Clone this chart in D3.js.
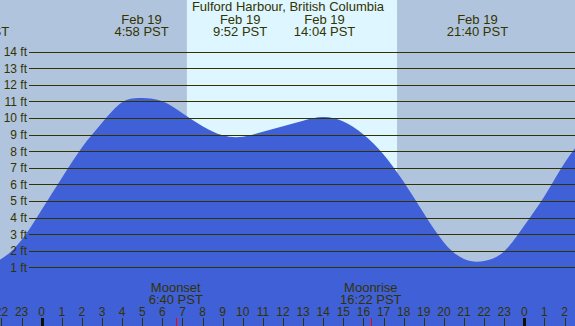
<!DOCTYPE html>
<html>
<head>
<meta charset="utf-8">
<script src="https://cdn.jsdelivr.net/npm/d3@7"></script>
<style>
body { margin: 0; background: #b0c4de; }
svg { display: block; font-family: "Liberation Sans", Arial, sans-serif; }
</style>
</head>
<body>
<svg width="575" height="326"></svg>
<script>
const width = 575, height = 326;
const svg = d3.select("svg");

// data
const title = "Fulford Harbour, British Columbia";
const hours = [-3, -2, -1, 0, 1, 2, 3, 4, 5, 6, 7, 8, 9, 10, 11, 12, 13, 14, 15, 16, 17, 18, 19, 20, 21, 22, 23, 24, 25, 26, 27];
const tideFt = [1.05, 1.52, 2.65, 4.47, 6.38, 8.22, 9.71, 10.95, 11.2, 11.0, 10.28, 9.5, 8.95, 8.86, 9.17, 9.5, 9.83, 10.05, 9.78, 9.0, 7.8, 6.15, 4.25, 2.5, 1.5, 1.38, 1.97, 3.52, 5.28, 7.29, 8.9];
const eventHours = [-3.15, 4.967, 9.867, 14.067, 21.667];
const eventDates = ["Feb 18", "Feb 19", "Feb 19", "Feb 19", "Feb 19"];
const eventTimes = ["20:51 PST", "4:58 PST", "9:52 PST", "14:04 PST", "21:40 PST"];
const moonHours = [6.667, 16.367];
const moonNames = ["Moonset", "Moonrise"];
const moonTimes = ["6:40 PST", "16:22 PST"];
const sunrise = 7.22, sunset = 17.67;
const feetTicks = [1, 2, 3, 4, 5, 6, 7, 8, 9, 10, 11, 12, 13, 14];
const hourTicks = [-2, -1, 0, 1, 2, 3, 4, 5, 6, 7, 8, 9, 10, 11, 12, 13, 14, 15, 16, 17, 18, 19, 20, 21, 22, 23, 24, 25, 26];

const ink = "#333300";

// scales
const x = d3.scaleLinear().domain([-2.074, 26.52]).range([0, width]);
const y = d3.scaleLinear().domain([0, 14]).range([283.9, 51.5]);

// night background + daylight band
svg.append("rect")
	.attr("width", width).attr("height", height)
	.attr("fill", "#b0c4de");
svg.append("rect")
	.attr("x", x(sunrise)).attr("y", 0)
	.attr("width", x(sunset) - x(sunrise)).attr("height", height)
	.attr("fill", "#ddf6ff");

// tide area
const area = d3.area()
	.x((d, i) => x(hours[i]))
	.y0(height)
	.y1(d => y(d))
	.curve(d3.curveNatural);
svg.append("path")
	.datum(tideFt)
	.attr("d", area)
	.attr("fill", "#4060d8");

// feet grid lines + labels
svg.selectAll(".grid")
	.data(feetTicks)
	.enter()
	.append("line")
	.attr("class", "grid")
	.attr("x1", 29).attr("x2", width)
	.attr("y1", d => Math.round(y(d)) + 0.5)
	.attr("y2", d => Math.round(y(d)) + 0.5)
	.attr("stroke", ink)
	.attr("stroke-width", 1.2);

svg.selectAll(".ylab")
	.data(feetTicks)
	.enter()
	.append("text")
	.attr("class", "ylab")
	.attr("x", 27)
	.attr("y", d => y(d) + 4.5)
	.attr("text-anchor", "end")
	.attr("font-size", 12)
	.attr("fill", ink)
	.text(d => d + " ft");

// title
svg.append("text")
	.attr("x", 288).attr("y", 11)
	.attr("text-anchor", "middle")
	.attr("font-size", 13)
	.attr("fill", ink)
	.text(title);

// tide extreme labels
const ev = svg.selectAll(".ev")
	.data(eventHours)
	.enter()
	.append("g")
	.attr("class", "ev")
	.attr("transform", d => `translate(${x(d)},0)`)
	.attr("text-anchor", "middle")
	.attr("font-size", 13)
	.attr("fill", ink);
ev.append("text").attr("y", 23.5).text((d, i) => eventDates[i]);
ev.append("text").attr("y", 35.5).text((d, i) => eventTimes[i]);

// moon labels
const moon = svg.selectAll(".moon")
	.data(moonHours)
	.enter()
	.append("g")
	.attr("class", "moon")
	.attr("transform", d => `translate(${x(d)},0)`)
	.attr("text-anchor", "middle")
	.attr("font-size", 13)
	.attr("fill", ink);
moon.append("text").attr("y", 291.5).text((d, i) => moonNames[i]);
moon.append("text").attr("y", 304).text((d, i) => moonTimes[i]);

// hour axis
svg.selectAll(".htick")
	.data(hourTicks)
	.enter()
	.append("line")
	.attr("class", "htick")
	.attr("x1", d => Math.round(x(d)) + 0.5)
	.attr("x2", d => Math.round(x(d)) + 0.5)
	.attr("y1", 318).attr("y2", height)
	.attr("stroke", d => (d % 24 === 0) ? "#111100" : ink)
	.attr("stroke-width", d => (d % 24 === 0) ? 3 : 1);

svg.selectAll(".hlab")
	.data(hourTicks)
	.enter()
	.append("text")
	.attr("class", "hlab")
	.attr("x", d => x(d))
	.attr("y", 316)
	.attr("text-anchor", "middle")
	.attr("font-size", 12)
	.attr("fill", ink)
	.text(d => ((d % 24) + 24) % 24);

// moon ticks
svg.selectAll(".mtick")
	.data(moonHours)
	.enter()
	.append("line")
	.attr("class", "mtick")
	.attr("x1", d => Math.round(x(d)) + 0.5)
	.attr("x2", d => Math.round(x(d)) + 0.5)
	.attr("y1", 318).attr("y2", height)
	.attr("stroke", "red")
	.attr("stroke-width", 1);
</script>
</body>
</html>
